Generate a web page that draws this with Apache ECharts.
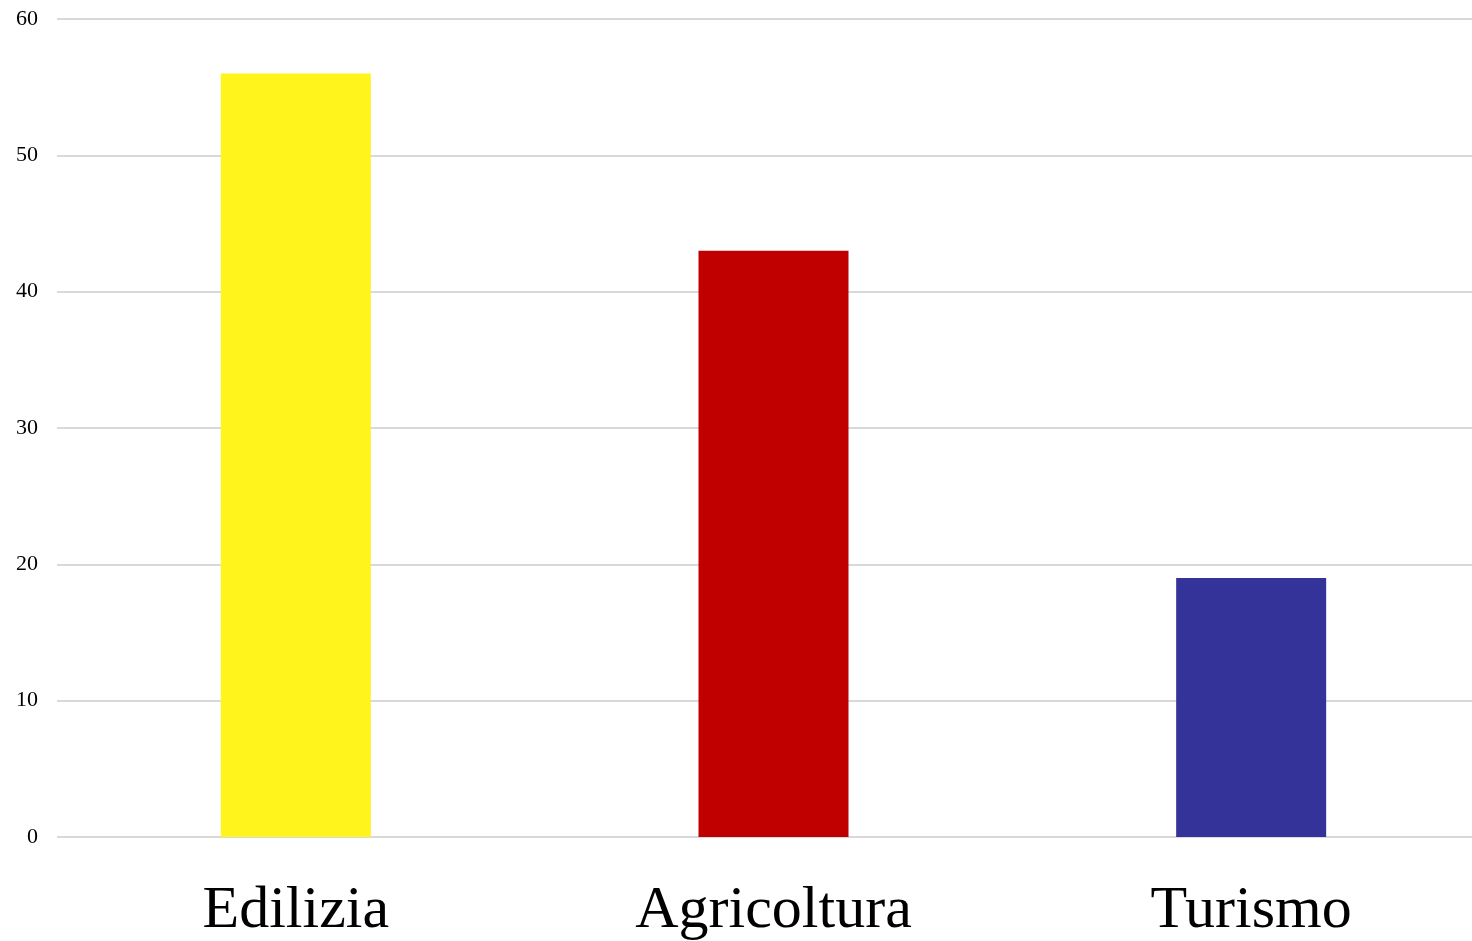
<!DOCTYPE html>
<html lang="it">
<head>
    <meta charset="utf-8">
    <title>Settori</title>
    <script src="https://cdn.jsdelivr.net/npm/echarts@6/dist/echarts.min.js"></script>
    <style>
        html, body { margin: 0; padding: 0; background: #fff; overflow: hidden; }
        /* il grafico originale esce a destra oltre il bordo: contenitore piu largo */
        #chart { width: 1490px; height: 941px; }
    </style>
</head>
<body>
    <div id="chart"></div>
    <script>
        // dati
        var categorie = ['Edilizia', 'Agricoltura', 'Turismo'];
        var valori = [56, 43, 19];
        var colori = ['#fff51c', '#c00000', '#343399'];

        var myChart = echarts.init(document.getElementById('chart'));
        var option = {
            animation: false,
            grid: { left: 57, right: 0, top: 19, bottom: 102 },
            xAxis: {
                type: 'category',
                data: categorie,
                axisLine: { show: false },
                axisTick: { show: false },
                axisLabel: {
                    fontFamily: 'Liberation Serif',
                    fontSize: 60,
                    color: '#000',
                    margin: 44
                }
            },
            yAxis: {
                type: 'value',
                min: 0,
                max: 60,
                interval: 10,
                axisLine: { show: false },
                axisTick: { show: false },
                axisLabel: {
                    fontFamily: 'Liberation Serif',
                    fontSize: 22,
                    color: '#000',
                    margin: 19,
                    padding: [3, 0, 0, 0]
                },
                splitLine: { lineStyle: { color: '#d9d9d9', width: 2 } }
            },
            series: [{
                type: 'bar',
                barWidth: 150,
                data: valori.map(function (v, i) {
                    return { value: v, itemStyle: { color: colori[i] } };
                })
            }]
        };
        myChart.setOption(option);
    </script>
</body>
</html>
